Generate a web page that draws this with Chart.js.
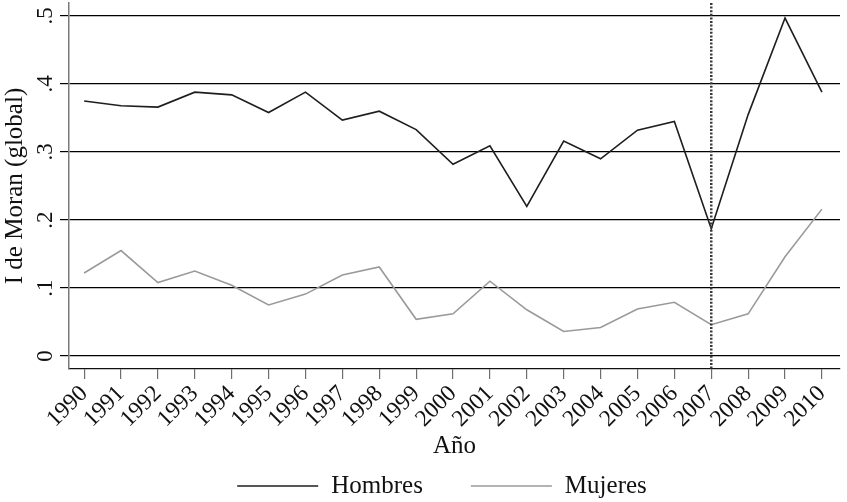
<!DOCTYPE html>
<html><head><meta charset="utf-8">
<script src="https://cdn.jsdelivr.net/npm/chart.js@4/dist/chart.umd.min.js"></script>
<style>html,body{margin:0;padding:0;background:#fff;}</style>
</head><body>
<canvas id="c" width="847" height="502"></canvas>
<script>
const years = [1990,1991,1992,1993,1994,1995,1996,1997,1998,1999,2000,2001,2002,2003,2004,2005,2006,2007,2008,2009,2010];
const hombres = [0.375,0.368,0.366,0.388,0.384,0.358,0.388,0.347,0.360,0.333,0.282,0.309,0.220,0.316,0.290,0.332,0.345,0.187,0.355,0.497,0.388];
const mujeres = [0.122,0.155,0.108,0.125,0.104,0.075,0.091,0.119,0.131,0.054,0.062,0.110,0.068,0.036,0.042,0.069,0.079,0.046,0.062,0.146,0.216];
const yTicks = [0,0.1,0.2,0.3,0.4,0.5];
const yTickLabels = ['0','.1','.2','.3','.4','.5'];
const seriesNames = ['Hombres','Mujeres'];
const seriesColors = ['#1e1e1e','#9a9a9a'];
const markerYear = 2007;
const xTitle = 'Año';
const yTitle = 'I de Moran (global)';

const FONT = "'Liberation Serif','Times New Roman',serif";

const yLabelPlugin = {
  id: 'yLabels',
  afterDraw(chart) {
    const ctx = chart.ctx, ys = chart.scales.y;
    ctx.save();
    ctx.fillStyle = '#111';
    ctx.font = '23px ' + FONT;
    ctx.textAlign = 'center';
    ctx.textBaseline = 'alphabetic';
    yTicks.forEach((v, i) => {
      ctx.save();
      ctx.translate(52, ys.getPixelForValue(v));
      ctx.rotate(-Math.PI / 2);
      ctx.fillText(yTickLabels[i], 0, 0);
      ctx.restore();
    });
    ctx.restore();
  }
};

const markerPlugin = {
  id: 'marker',
  afterDatasetsDraw(chart) {
    const ctx = chart.ctx, xs = chart.scales.x, a = chart.chartArea;
    const px = xs.getPixelForValue(markerYear);
    ctx.save();
    ctx.strokeStyle = '#3a3a3a';
    ctx.lineWidth = 2.5;
    ctx.setLineDash([2, 1.6]);
    ctx.beginPath();
    ctx.moveTo(px, a.top);
    ctx.lineTo(px, a.bottom);
    ctx.stroke();
    ctx.restore();
  }
};

const legendPlugin = {
  id: 'customLegend',
  afterDraw(chart) {
    const ctx = chart.ctx;
    ctx.save();
    ctx.font = '25px ' + FONT;
    const lineLen = 81, gapText = 13, gapItem = 48;
    const widths = chart.data.datasets.map(d => ctx.measureText(d.label).width);
    let total = widths.reduce((s, w) => s + lineLen + gapText + w, 0) + gapItem * (widths.length - 1);
    let x = 442 - total / 2;
    const y = 486;
    chart.data.datasets.forEach((d, i) => {
      ctx.strokeStyle = d.borderColor;
      ctx.lineWidth = 1.5;
      ctx.beginPath();
      ctx.moveTo(x, y); ctx.lineTo(x + lineLen, y); ctx.stroke();
      x += lineLen + gapText;
      ctx.fillStyle = '#111';
      ctx.textBaseline = 'middle';
      ctx.textAlign = 'left';
      ctx.fillText(d.label, x, y);
      x += widths[i] + gapItem;
    });
    ctx.restore();
  }
};

new Chart(document.getElementById('c'), {
  type: 'line',
  data: {
    datasets: [
      { label: seriesNames[0], data: years.map((yr, i) => ({x: yr, y: hombres[i]})), borderColor: seriesColors[0], borderWidth: 1.6, pointRadius: 0, tension: 0, fill: false },
      { label: seriesNames[1], data: years.map((yr, i) => ({x: yr, y: mujeres[i]})), borderColor: seriesColors[1], borderWidth: 1.6, pointRadius: 0, tension: 0, fill: false }
    ]
  },
  options: {
    responsive: false,
    animation: false,
    devicePixelRatio: 1,
    layout: { padding: { top: 3, right: 7, bottom: 0, left: 0 } },
    plugins: { legend: { display: false }, tooltip: { enabled: false } },
    scales: {
      x: {
        type: 'linear',
        min: 1989.59, max: 2010.49,
        afterBuildTicks: s => { s.ticks = years.map(v => ({value: v})); },
        afterFit: s => { s.height = 133; },
        grid: { drawOnChartArea: false, drawTicks: true, tickLength: 10, color: '#6e6e6e', lineWidth: 1.2 },
        border: { display: true, color: '#111', width: 1.2 },
        ticks: {
          autoSkip: false, minRotation: 45, maxRotation: 45, padding: 1,
          color: '#111', font: { family: FONT, size: 23.5 },
          callback: v => String(v)
        },
        title: { display: true, text: xTitle, color: '#111', font: { family: FONT, size: 25 }, padding: { top: 0, bottom: 41 } }
      },
      y: {
        type: 'linear',
        min: -0.0191, max: 0.5191,
        afterBuildTicks: s => { s.ticks = yTicks.map(v => ({value: v})); },
        afterFit: s => { s.width = 69; },
        grid: { drawOnChartArea: true, drawTicks: true, tickLength: 9, color: '#000', lineWidth: 1.2 },
        border: { display: true, color: '#7a7a7a', width: 1.5 },
        ticks: { display: false },
        title: { display: true, text: yTitle, color: '#111', font: { family: FONT, size: 25 }, padding: { top: 0, bottom: 0 } }
      }
    }
  },
  plugins: [yLabelPlugin, markerPlugin, legendPlugin]
});
</script>
</body></html>
